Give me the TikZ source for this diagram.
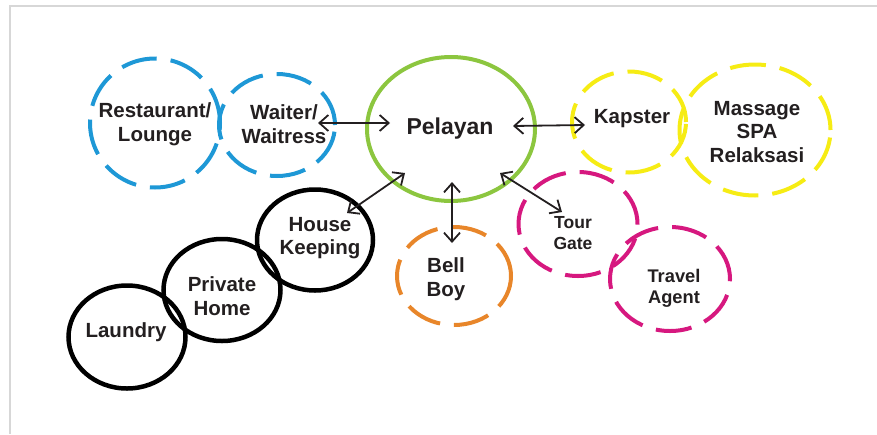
\documentclass[tikz,border=0pt]{standalone}
\usepackage{fontspec}
\setmainfont{Liberation Sans}
\usetikzlibrary{shapes.geometric,arrows.meta}
\definecolor{cblue}{RGB}{30,152,214}
\definecolor{cgreen}{RGB}{140,198,63}
\definecolor{cyellow}{RGB}{246,236,20}
\definecolor{corange}{RGB}{232,134,42}
\definecolor{cpink}{RGB}{214,24,127}
\definecolor{cframe}{RGB}{215,215,215}
\definecolor{ctext}{RGB}{35,31,32}
\tikzset{
  ell/.style={ellipse, inner sep=0pt, line width=4pt},
  dashring/.style={ell, dash pattern=on 36pt off 14pt},
  lab/.style={align=center, text=ctext, font=\fontsize{20.5}{23.5}\selectfont\bfseries, inner sep=0pt},
  conn/.style={ctext, line width=1.8pt, {Straight Barb[length=9pt,width=16pt]}-{Straight Barb[length=9pt,width=16pt]}},
}
\begin{document}
\begin{tikzpicture}[x=1pt,y=-1pt]
\useasboundingbox (0,0) rectangle (877,434);
\draw[cframe, line width=1.2pt] (10,434) -- (10,6) -- (877,6);
% ellipses
\node[dashring, draw=cblue, minimum width=130pt, minimum height=129pt] (rest) at (155,123) {};
\node[dashring, draw=cblue, minimum width=116pt, minimum height=102pt] (wait) at (277,125) {};
\node[ell, draw=cgreen, minimum width=168pt, minimum height=144pt] (pel) at (451,129) {};
\node[dashring, draw=cyellow, minimum width=114pt, minimum height=101pt] (kap) at (629,122) {};
\node[dashring, draw=cyellow, minimum width=151pt, minimum height=131pt] (mas) at (755,130) {};
\node[ell, draw=black, line width=4.5pt, minimum width=116pt, minimum height=101pt] (house) at (315,240) {};
\node[ell, draw=black, line width=4.5pt, minimum width=117pt, minimum height=102pt] (priv) at (222,290) {};
\node[ell, draw=black, line width=4.5pt, minimum width=117pt, minimum height=103pt] (laun) at (127,337) {};
\node[dashring, draw=corange, minimum width=114pt, minimum height=98pt] (bell) at (454,276) {};
\node[dashring, draw=cpink, minimum width=119pt, minimum height=104pt] (tour) at (578,224) {};
\node[dashring, draw=cpink, minimum width=120pt, minimum height=104pt] (trav) at (670,279) {};
% labels
\node[lab] (trest) at (155,124) {Restaurant/\\Lounge};
\node[lab] (twait) at (284,124) {Waiter/\\Waitress};
\node[lab, font=\fontsize{23}{26}\selectfont\bfseries] (tpel) at (450,129) {Pelayan};
\node[lab] (tkap) at (632,119) {Kapster};
\node[lab] (tmas) at (757,132) {Massage\\SPA\\Relaksasi};
\node[lab] (thouse) at (320,238) {House\\Keeping};
\node[lab] (tpriv) at (222,296) {Private\\Home};
\node[lab] (tlaun) at (126,332) {Laundry};
\node[lab] (tbell) at (446,279) {Bell\\Boy};
\node[lab, font=\fontsize{17.5}{20.5}\selectfont\bfseries] (ttour) at (573,233) {Tour\\Gate};
\node[lab, font=\fontsize{18.3}{21}\selectfont\bfseries] (ttrav) at (674,288) {Travel\\Agent};
% connector ends
\coordinate (aw) at (318,123); \coordinate (ap1) at (390,123);
\coordinate (ap2) at (513,126); \coordinate (ak) at (585,125);
\coordinate (ap3) at (405,173); \coordinate (ah) at (347,213);
\coordinate (ap4) at (452,182); \coordinate (ab) at (452,243);
\coordinate (ap5) at (500,173); \coordinate (at) at (562,212);
\draw[conn] (aw) -- (ap1);
\draw[conn] (ap2) -- (ak);
\draw[conn] (ap3) -- (ah);
\draw[conn] (ap4) -- (ab);
\draw[conn] (ap5) -- (at);
\end{tikzpicture}
\end{document}
